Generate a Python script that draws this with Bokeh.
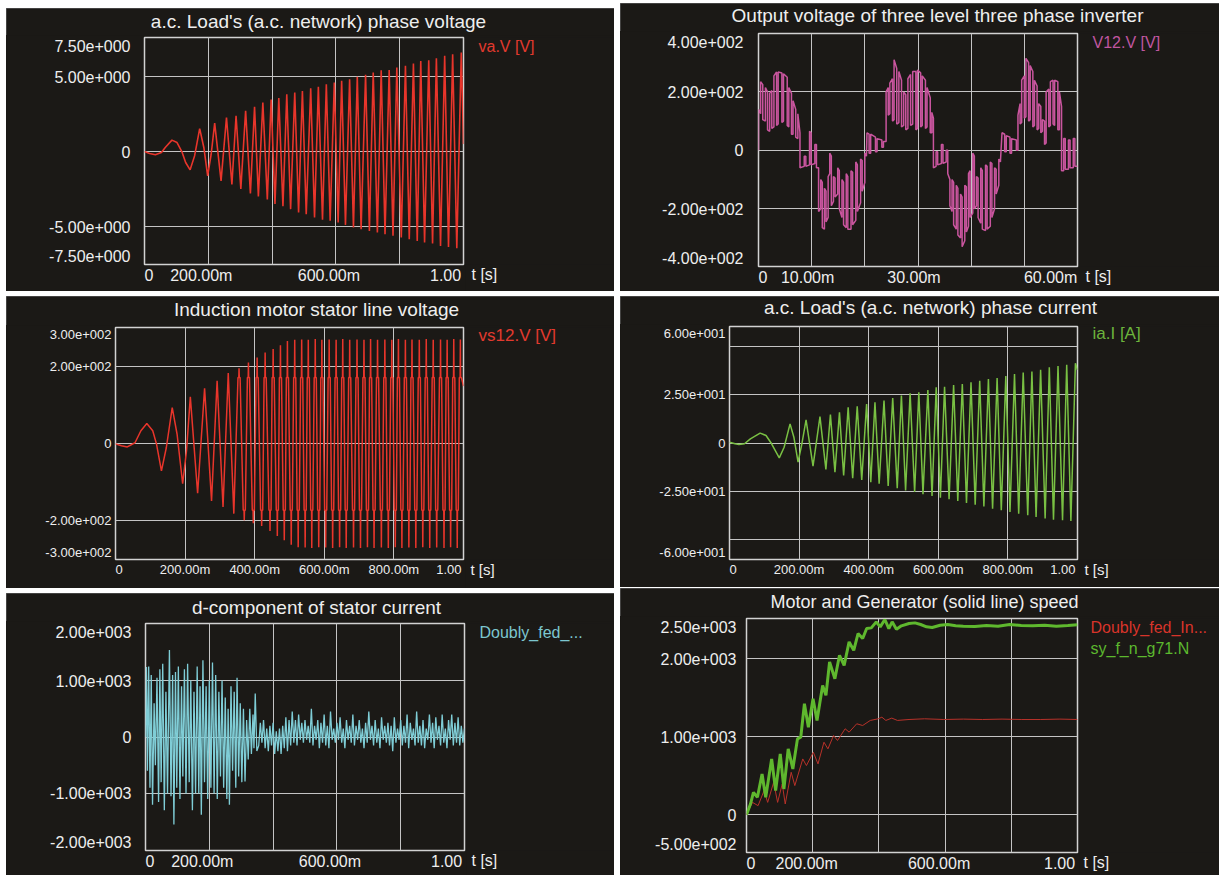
from bokeh.plotting import figure
from bokeh.layouts import row, column
from bokeh.models import FixedTicker, Label, Range1d, Title, Spacer
from bokeh.embed import file_html
from bokeh.resources import INLINE

# ---------------- data ----------------
# Panel 1: a.c. load phase voltage va.V [V]
va_t = [0.000, 0.016, 0.034, 0.053, 0.065, 0.086, 0.102, 0.117, 0.129, 0.143, 0.157, 0.173, 0.186, 0.198, 0.209, 0.220,
        0.240, 0.257, 0.274, 0.287, 0.302, 0.317, 0.332, 0.345, 0.357, 0.371, 0.385, 0.397, 0.409, 0.421, 0.434, 0.446,
        0.458, 0.471, 0.483, 0.495, 0.507, 0.521, 0.533, 0.545, 0.558, 0.570, 0.582, 0.595, 0.607, 0.618, 0.630, 0.643,
        0.655, 0.667, 0.679, 0.693, 0.705, 0.717, 0.730, 0.742, 0.754, 0.767, 0.779, 0.791, 0.805, 0.818, 0.830, 0.843,
        0.855, 0.866, 0.878, 0.891, 0.903, 0.915, 0.928, 0.941, 0.953, 0.966, 0.979, 0.993, 1.000]
va_v = [0.00, -0.13, -0.22, -0.07, 0.27, 0.76, 0.60, 0.00, -0.73, -1.22, -0.29, 1.53, 0.27, -1.62, -0.18, 1.89,
        -1.96, 2.27, -2.20, 2.38, -2.50, 2.71, -2.80, 2.98, -3.00, 3.27, -3.20, 3.47, -3.50, 3.56, -3.65, 3.82,
        -3.84, 3.93, -4.07, 4.04, -4.18, 4.22, -4.40, 4.31, -4.55, 4.49, -4.62, 4.60, -4.73, 4.71, -4.89, 4.82,
        -5.07, 4.98, -5.18, 5.11, -5.29, 5.27, -5.40, 5.42, -5.51, 5.44, -5.62, 5.60, -5.73, 5.71, -5.84, 5.87,
        -5.96, 6.04, -6.07, 6.09, -6.13, 6.22, -6.29, 6.38, -6.36, 6.49, -6.44, 6.60, 0.50]

# Panel 2: inverter output line voltage V12.V [V]  (time in ms, volts)
v12_pts = [
    (0, 0), (0, 140), (0.4, 125), (0.4, 235), (0.8, 225), (0.8, 105), (1.3, 100), (1.3, 215), (1.7, 200), (1.7, 70),
    (2.1, 65), (2.1, 195), (2.5, 205), (2.5, 75), (2.9, 80), (2.9, 255), (3.4, 268), (3.4, 85), (3.7, 90), (3.7, 268),
    (4.4, 265), (4.4, 95), (4.7, 100), (4.7, 262), (5.4, 250), (5.4, 85), (5.7, 80), (5.7, 215), (6.2, 195), (6.2, 55),
    (6.5, 55), (6.5, 170), (7.0, 140), (7.0, 45), (7.4, 40), (7.4, 125), (7.8, 60), (7.8, -60),
    (8.6, -55), (8.6, -20), (8.9, -20), (8.9, -55), (9.6, -50), (9.6, 65), (9.9, 60), (9.9, -50), (10.6, -45), (10.6, 20),
    (10.9, 20), (10.9, -60), (11.3, -60),
    (11.3, -210), (11.7, -200), (11.7, -100), (12.0, -110), (12.0, -265), (12.4, -270), (12.4, -130), (12.7, -140),
    (12.7, -245), (13.1, -230), (13.1, -90), (13.4, -80), (13.4, -10), (13.7, -20), (13.7, -190), (14.1, -175),
    (14.1, -90), (14.4, -95), (14.4, -160), (14.9, -150), (14.9, -60), (15.2, -70), (15.2, -200), (15.7, -230),
    (15.7, -100), (16.0, -110), (16.0, -255), (16.5, -265), (16.5, -80), (16.8, -90), (16.8, -270), (17.4, -270),
    (17.4, -70), (17.7, -75), (17.7, -255), (18.3, -240), (18.3, -40), (18.6, -50), (18.6, -210), (19.2, -180),
    (19.2, -30), (19.5, -35), (19.5, -140), (20.0, -110), (20.0, -10), (20.3, -20), (20.4, 60),
    (20.8, 55), (20.8, -10), (21.1, -10), (21.1, 55), (22.0, 45), (22.0, -5), (22.3, -5), (22.3, 40), (23.2, 35),
    (23.2, 10), (23.5, 10), (23.5, 30), (24.0, 30),
    (24.0, 200), (24.4, 215), (24.4, 120), (24.7, 125), (24.7, 230), (25.2, 245), (25.2, 100), (25.5, 105), (25.5, 310),
    (26.0, 280), (26.0, 90), (26.4, 95), (26.4, 270), (26.9, 240), (26.9, 80), (27.3, 85), (27.3, 200), (27.7, 190),
    (27.7, 70), (28.1, 75), (28.1, 245), (28.6, 260), (28.6, 85), (29.0, 90), (29.0, 270), (29.6, 270), (29.6, 70),
    (29.9, 75), (29.9, 275), (30.5, 265), (30.5, 80), (30.8, 85), (30.8, 255), (31.4, 240), (31.4, 75), (31.7, 80),
    (31.7, 215), (32.3, 180), (32.3, 60), (32.6, 60), (32.6, 130), (32.9, 110), (32.9, -60),
    (33.4, -55), (33.4, -5), (33.7, -5), (33.7, -50), (34.4, -45), (34.4, 20), (34.7, 20), (34.7, -45), (35.3, -40),
    (35.3, 0), (35.6, 0), (35.6, -80), (36.0, -100),
    (36.0, -190), (36.4, -210), (36.4, -100), (36.7, -110), (36.7, -255), (37.2, -270), (37.2, -120), (37.5, -130),
    (37.5, -290), (38.0, -300), (38.0, -150), (38.3, -160), (38.3, -330), (38.8, -310), (38.8, -120), (39.1, -125),
    (39.1, -280), (39.5, -260), (39.5, -80), (39.8, -70), (39.8, -230), (40.3, -215), (40.3, -10), (40.6, -20),
    (40.6, -200), (41.0, -190), (41.0, -90), (41.3, -95), (41.3, -230), (41.8, -250), (41.8, -60), (42.1, -70),
    (42.1, -270), (42.7, -275), (42.7, -50), (43.0, -55), (43.0, -270), (43.6, -260), (43.6, -40), (43.9, -45),
    (43.9, -230), (44.4, -200), (44.4, -60), (44.7, -65), (44.7, -150), (45.2, -120), (45.2, -30), (45.5, -40), (45.8, 60),
    (46.3, 55), (46.3, -5), (46.6, -5), (46.6, 50), (47.3, 45), (47.3, -10), (47.6, -10), (47.6, 40), (48.5, 35),
    (48.5, 0), (48.8, 0), (48.8, 120), (49.2, 160),
    (49.2, 90), (49.5, 95), (49.5, 240), (50.0, 255), (50.0, 110), (50.3, 115), (50.3, 315), (50.8, 300), (50.8, 100),
    (51.1, 105), (51.1, 290), (51.6, 270), (51.6, 80), (51.9, 85), (51.9, 240), (52.4, 220), (52.4, 70), (52.7, 75),
    (52.7, 160), (53.1, 150), (53.1, 60), (53.4, 65), (53.4, 105), (53.8, 100), (53.8, 20), (54.1, 25), (54.1, 200),
    (54.6, 210), (54.6, 80), (54.9, 85), (54.9, 235), (55.4, 240), (55.4, 90), (55.7, 85), (55.7, 240), (56.3, 235),
    (56.3, 70), (56.6, 70), (56.6, 200), (57.0, 150), (57.0, -70), (57.4, -70),
    (57.4, 40), (57.7, 40), (57.7, -65), (58.3, -65), (58.3, 35), (58.6, 35), (58.6, -60), (59.2, -60), (59.2, 40),
    (59.5, 40), (59.5, -55), (60.0, -55),
]

# Panel 3: induction motor stator line voltage vs12.V [V]  (extremes of each half cycle)
vs_t = [0.000, 0.017, 0.034, 0.056, 0.073, 0.090, 0.107, 0.118, 0.132, 0.146, 0.163, 0.177, 0.193, 0.204, 0.215,
        0.236, 0.256, 0.276, 0.292, 0.309, 0.324, 0.340, 0.355, 0.370, 0.382, 0.396, 0.407, 0.420, 0.430, 0.444,
        0.453, 0.465, 0.474, 0.485, 0.494,
        0.505, 0.515, 0.525, 0.535, 0.545, 0.554, 0.564, 0.574, 0.584, 0.593,
        0.604, 0.614, 0.624, 0.634, 0.644, 0.653, 0.663, 0.673, 0.684, 0.694,
        0.704, 0.714, 0.724, 0.733, 0.743, 0.753, 0.764, 0.774, 0.784, 0.794,
        0.804, 0.813, 0.823, 0.833, 0.843, 0.852, 0.863, 0.873, 0.883, 0.893,
        0.903, 0.913, 0.923, 0.934, 0.944, 0.953, 0.963, 0.972, 0.982, 0.991, 1.000]
vs_v = [0, -5, -8, 3, 34, 53, 34, -1, -70, -10, 94, 25, -103, -18, 122,
        -128, 144, -148, 164, -164, 184, -181, 196, -198, 211, -206, 224, -213, 237, -226,
        246, -239, 256, -250, 267,
        -262, 270, -268, 271, -269, 270, -270, 272, -268, 270,
        -269, 271, -270, 270, -268, 272, -270, 270, -269, 271,
        -270, 270, -268, 272, -270, 270, -269, 271, -270, 270,
        -268, 272, -270, 270, -269, 271, -270, 270, -268, 272,
        -270, 270, -269, 271, -270, 270, -268, 272, -270, 271, 150]
vs_step = 172          # flat step level seen on every large cycle (bands at +-172 V)
vs_step_w = 0.003      # half width of that step around each peak [s]

# Panel 4: a.c. load phase current ia.I [A]
ia_t = [0.000, 0.016, 0.027, 0.043, 0.060, 0.088, 0.105, 0.121, 0.143, 0.157, 0.174, 0.185, 0.197, 0.208, 0.220,
        0.240, 0.260, 0.277, 0.290, 0.303, 0.316, 0.328, 0.341, 0.354, 0.367,
        0.380, 0.394, 0.406, 0.418, 0.430, 0.444, 0.456, 0.469, 0.482, 0.494,
        0.506, 0.519, 0.532, 0.544, 0.556, 0.570, 0.582, 0.594, 0.606, 0.618,
        0.631, 0.644, 0.656, 0.669, 0.681, 0.694, 0.706, 0.719, 0.731, 0.744,
        0.756, 0.769, 0.781, 0.794, 0.806, 0.819, 0.831, 0.844, 0.857, 0.869,
        0.881, 0.894, 0.907, 0.919, 0.931, 0.944, 0.957, 0.969, 0.981, 0.994, 1.000]
ia_v = [0.5, -0.3, -0.7, -0.3, 2.2, 5.2, 4.0, -0.3, -7.6, -2.1, 10.0, 3.1, -9.8, -0.3, 12.1,
        -11.9, 13.8, -13.6, 14.8, -15.0, 16.0, -16.7, 18.6, -18.1, 19.1,
        -19.0, 20.3, -20.2, 21.2, -21.0, 22.1, -22.2, 23.4, -23.4, 24.7,
        -24.5, 25.9, -25.3, 26.4, -26.4, 27.6, -27.4, 29.0, -28.3, 29.3,
        -29.1, 30.2, -30.0, 30.7, -31.0, 31.6, -31.9, 32.4, -32.8, 33.3,
        -34.0, 33.8, -34.8, 34.8, -35.7, 35.9, -36.6, 36.7, -37.4, 37.2,
        -38.3, 38.1, -39.0, 39.3, -39.7, 40.0, -40.0, 40.7, -40.3, 41.4, 38.0]

# Panel 5: d-component of stator current
dq_t = [0.000, 0.003, 0.006, 0.010, 0.014, 0.018, 0.022, 0.027, 0.031, 0.036,
        0.041, 0.045, 0.049, 0.054, 0.059, 0.064, 0.069, 0.075, 0.080, 0.085,
        0.089, 0.094, 0.098, 0.103, 0.108, 0.113, 0.117, 0.122, 0.127, 0.132,
        0.137, 0.142, 0.147, 0.152, 0.157, 0.162, 0.167, 0.171, 0.175, 0.180,
        0.185, 0.190, 0.195, 0.200, 0.205, 0.210, 0.215, 0.220, 0.225, 0.230,
        0.235, 0.240, 0.245, 0.250, 0.255, 0.259, 0.263, 0.268, 0.273, 0.278,
        0.283, 0.287, 0.292, 0.297, 0.302, 0.307, 0.312, 0.317, 0.322, 0.327,
        0.332, 0.337, 0.340, 0.344, 0.349,
        0.355, 0.360, 0.365, 0.370, 0.375, 0.380, 0.385, 0.390, 0.395, 0.400,
        0.405, 0.410, 0.415, 0.420, 0.425, 0.430, 0.435, 0.440, 0.445, 0.450,
        0.455, 0.460, 0.465, 0.470, 0.475, 0.480, 0.485, 0.490, 0.495, 0.500,
        0.505, 0.510, 0.515, 0.520, 0.525, 0.530, 0.535, 0.540, 0.545, 0.550,
        0.555, 0.560, 0.565, 0.570, 0.575, 0.580, 0.585, 0.590, 0.595, 0.600,
        0.605, 0.610, 0.615, 0.620, 0.625, 0.630, 0.635, 0.640, 0.645, 0.650,
        0.655, 0.660, 0.665, 0.670, 0.675, 0.680, 0.685, 0.690, 0.695, 0.700,
        0.705, 0.710, 0.715, 0.720, 0.725, 0.730, 0.735, 0.740, 0.745, 0.750,
        0.755, 0.760, 0.765, 0.770, 0.775, 0.780, 0.785, 0.790, 0.795, 0.800,
        0.805, 0.810, 0.815, 0.820, 0.825, 0.830, 0.835, 0.840, 0.845, 0.850,
        0.855, 0.860, 0.865, 0.870, 0.875, 0.880, 0.885, 0.890, 0.895, 0.900,
        0.905, 0.910, 0.915, 0.920, 0.925, 0.930, 0.935, 0.940, 0.945, 0.950,
        0.955, 0.960, 0.965, 0.970, 0.975, 0.980, 0.985, 0.990, 0.995, 1.000]
dq_v = [0, 1240, -600, 1250, -900, 1100, -1200, 600, -500, 1050,
        -1150, 1200, -800, 1300, -1300, 800, -1000, 1540, -1050, 1100,
        -1550, 1150, -900, 1250, -1100, 900, -700, 1200, -1000, 1300,
        -800, 1000, -1300, 800, -1000, 1250, -1000, 900, -1380, 1360,
        -800, 900, -1100, 1000, -900, 1320, -1000, 1100, -1100, 800,
        -700, 1000, -900, 700, -1100, 500, -1200, 900, -600, 800,
        -900, 1050, -700, 600, -800, 500, -790, 300, -400, 500,
        -300, 400, -200, 770, -250,
        -150, 250, -100, 300, -200, 150, -250, 200, -150, 250,
        -300, 100, -250, 150, -300, 200, -200, 350, -250, 300,
        -150, 450, -100, 300, -150, 400, -50, 250, -100, 300,
        -50, 200, -100, 500, -150, 200, -50, 300, -200, 250,
        -100, 400, -150, 200, -200, 450, -50, 150, -100, 250,
        -50, 350, -100, 150, -200, 300, -50, 200, -100, 400,
        -150, 200, -50, 300, -100, 150, -200, 250, -100, 450,
        -50, 200, -150, 300, -100, 150, -200, 350, -50, 200,
        -100, 250, -150, 200, -250, 350, -100, 150, -50, 300,
        -150, 200, -100, 400, -200, 250, -50, 150, -150, 450,
        -100, 200, -150, 300, -200, 150, -50, 400, -100, 250,
        -200, 350, -50, 200, -150, 400, -100, 150, -200, 300,
        -50, 400, -150, 250, -100, 350, -150, 200, -100, 150]

# Panel 6: generator speed (green, thick) and motor speed (red, thin)
gen_t = [0.000, 0.012, 0.021, 0.033, 0.047, 0.058, 0.076, 0.088, 0.102, 0.113,
         0.126, 0.140, 0.154, 0.164, 0.175, 0.187, 0.201, 0.213, 0.230, 0.240,
         0.251, 0.267, 0.281, 0.295, 0.310, 0.324, 0.337, 0.351, 0.363, 0.377,
         0.392, 0.404, 0.418, 0.430, 0.440, 0.453, 0.468, 0.491, 0.509, 0.526,
         0.544, 0.561, 0.585, 0.608, 0.632, 0.655, 0.690, 0.725, 0.760, 0.795,
         0.830, 0.865, 0.901, 0.936, 0.971, 1.000]
gen_v = [0, 137, 287, 223, 522, 223, 715, 308, 779, 330,
         844, 587, 972, 994, 1422, 1122, 1486, 1208, 1657, 1529,
         1957, 1743, 2043, 1914, 2214, 2107, 2321, 2257, 2385, 2394,
         2471, 2407, 2501, 2385, 2471, 2377, 2420, 2450, 2458, 2437,
         2407, 2398, 2428, 2437, 2420, 2415, 2411, 2424, 2415, 2437,
         2424, 2420, 2428, 2415, 2424, 2433]
mot_t = [0.000, 0.018, 0.035, 0.053, 0.064, 0.082, 0.094, 0.108, 0.117, 0.135,
         0.146, 0.170, 0.181, 0.202, 0.216, 0.234, 0.246, 0.263, 0.275, 0.298,
         0.310, 0.333, 0.351, 0.374, 0.398, 0.409, 0.421, 0.439, 0.456, 0.491,
         0.538, 0.596, 0.655, 0.713, 0.772, 0.830, 0.889, 0.947, 1.000]
mot_v = [0, 158, 116, 308, 158, 415, 158, 394, 137, 544,
         373, 715, 630, 801, 651, 929, 844, 1015, 951, 1101,
         1058, 1165, 1143, 1208, 1229, 1250, 1208, 1238, 1208, 1220,
         1229, 1220, 1225, 1220, 1225, 1220, 1220, 1225, 1220]

# tick labels
t_ticks_a = [0, 0.2, 0.6, 1.0]
t_labels_a = ["0", "200.00m", "600.00m", "1.00"]
t_ticks_b = [0, 0.2, 0.4, 0.6, 0.8, 1.0]
t_labels_b = ["0", "200.00m", "400.00m", "600.00m", "800.00m", "1.00"]
t_ticks_c = [0, 0.01, 0.03, 0.06]
t_labels_c = ["0", "10.00m", "30.00m", "60.00m"]

# ---------------- styling ----------------
FONT = "Liberation Sans"
BG = "#1b1916"
GRID = "#c4c4c4"
FRAME = "#d2d2d2"
TXT = "#eeeeee"
PANEL_CSS = {"background-color": BG, "outline": "1px solid #6e6e6e", "outline-offset": "-1px"}
DARK = {"background-color": BG}


def put(q, x, y, text, color, fs, align="left"):
    q.add_layout(Label(x=x, y=y, text=text, text_align=align, text_baseline="middle",
                       text_color=color, text_font=FONT, text_font_size=f"{fs}px"))


def build(W, H, fl, ft, fr, fb, xr, yr, xgrid, ygrid, xt, xl, yt, yl, yfs, xfs, ystand, xshift,
          title, tdx, tdy, tfs, legends, ts_fs, ts_dx):
    fw, fh = fr - fl, fb - ft
    T = ft - 2                       # height of the title strip
    MW = fr + 2                      # width of the chart itself
    BB = H - fb                      # bottom border (axis labels)
    p = figure(width=MW, height=H - T, x_range=Range1d(*xr), y_range=Range1d(*yr),
               min_border_left=fl, min_border_right=2, min_border_top=2, min_border_bottom=BB,
               output_backend="svg", toolbar_location=None, tools="", title=None,
               background_fill_color=BG, border_fill_color=BG,
               outline_line_color=FRAME, outline_line_width=1.5)
    dx = (xr[1] - xr[0]) / fw
    dy = (yr[1] - yr[0]) / fh

    ypos = []
    for v in yt:
        half = 0.55 * yfs * dy
        ypos.append(round(min(max(v, yr[0] + half), yr[1] - half), 6))
    xpos = []
    for v, lab in zip(xt, xl):
        half = len(lab) * 0.28 * xfs * dx
        xpos.append(round(min(max(v + xshift * dx, xr[0] + half), xr[1] - half), 7))

    p.yaxis.ticker = FixedTicker(ticks=ypos)
    p.yaxis.major_label_overrides = {k: lab for k, lab in zip(ypos, yl)}
    p.xaxis.ticker = FixedTicker(ticks=xpos)
    p.xaxis.major_label_overrides = {k: lab for k, lab in zip(xpos, xl)}
    for ax, fs, st in ((p.yaxis, yfs, ystand), (p.xaxis, xfs, 2)):
        ax.axis_line_color = None
        ax.major_tick_line_color = None
        ax.minor_tick_line_color = None
        ax.major_tick_out = 0
        ax.major_tick_in = 0
        ax.minor_tick_out = 0
        ax.minor_tick_in = 0
        ax.major_label_text_color = TXT
        ax.major_label_text_font = FONT
        ax.major_label_text_font_size = f"{fs}px"
        ax.major_label_standoff = st

    p.xgrid.ticker = FixedTicker(ticks=xgrid)
    p.ygrid.ticker = FixedTicker(ticks=ygrid)
    for g in (p.xgrid, p.ygrid):
        g.grid_line_color = GRID
        g.grid_line_width = 1

    # title strip above the chart
    top = figure(width=W, height=T, x_range=Range1d(0, W), y_range=Range1d(T, 0),
                 x_axis_type=None, y_axis_type=None, output_backend="svg", toolbar_location=None,
                 tools="", title=None, min_border=0, background_fill_color=BG, border_fill_color=BG,
                 outline_line_color=None)
    put(top, fl + tdx, ft + tdy, title, TXT, tfs, align="center")

    # strip to the right of the chart: same frame rows as the chart, legend names inside,
    # the time unit below the frame, on the line of the time tick labels
    SW = W - MW
    side = figure(width=SW, height=H - T, x_range=Range1d(0, SW), y_range=Range1d(fh, 0),
                  x_axis_type=None, y_axis_type=None, output_backend="svg", toolbar_location=None,
                  tools="", title=None, min_border_left=0, min_border_right=0, min_border_top=2,
                  min_border_bottom=BB, background_fill_color=BG, border_fill_color=BG,
                  outline_line_color=None)
    for text, color, ldx, ldy, lfs in legends:
        put(side, ldx - 2, ldy, text, color, lfs)
    kw = dict(text="t [s]", align="left", vertical_align="middle", offset=ts_dx - 2,
              text_color=TXT, text_font=FONT, text_font_size=f"{ts_fs}px", text_font_style="normal")
    try:
        tt = Title(standoff=0, **kw)
    except AttributeError:
        tt = Title(**kw)
    side.add_layout(tt, "below")

    panel = column(top, row(p, side, spacing=0, styles=DARK), spacing=0, styles=PANEL_CSS)
    return p, panel


def series(t, v):
    n = min(len(t), len(v))
    return list(t[:n]), list(v[:n])


def with_steps(t, v, level, half_w, start):
    """Draw each large half-cycle as read: a flat step at +-level with a narrow spike to the extreme."""
    ot, ov = [], []
    for ti, vi in zip(t, v):
        if ti >= start and abs(vi) > level and ti + half_w < 1.0:
            s = level if vi > 0 else -level
            ot += [ti - half_w, ti - 0.0007, ti, ti + 0.0007, ti + half_w]
            ov += [s, s, vi, s, s]
        else:
            ot.append(ti)
            ov.append(vi)
    return ot, ov


LW, RW = 608, 599

# Panel 1
p1, c1 = build(LW, 283, 138, 29, 457, 256, (0, 1), (-7.53, 7.6), [0.2, 0.4, 0.6, 0.8], [-5, 0, 5],
               t_ticks_a, t_labels_a, [7.5, 5, 0, -5, -7.5],
               ["7.50e+000", "5.00e+000", "0", "-5.00e+000", "-7.50e+000"], 16, 16, 14, -7,
               "a.c. Load's (a.c. network) phase voltage", 174, -16, 19,
               [("va.V [V]", "#e23a2e", 15, 9, 16)], 16, 8)
x, y = series(va_t, va_v)
p1.line(x, y, line_color="#e8352b", line_width=1.6)

# Panel 2
p2, c2 = build(RW, 288, 138, 30, 457, 263, (0, 0.06), (-398, 400), [0.01, 0.02, 0.03, 0.04, 0.05],
               [-200, 0, 200], t_ticks_c, t_labels_c, [400, 200, 0, -200, -400],
               ["4.00e+002", "2.00e+002", "0", "-2.00e+002", "-4.00e+002"], 16, 16, 15, -4,
               "Output voltage of three level three phase inverter", 179, -18, 19,
               [("V12.V [V]", "#c056a0", 15, 9, 16)], 16, 8)
v12_ms = [pt[0] for pt in v12_pts]
v12_v = [pt[1] for pt in v12_pts]
p2.line([m / 1000.0 for m in v12_ms], v12_v, line_color="#c9559e", line_width=1.5)

# Panel 3
p3, c3 = build(LW, 292, 109, 31, 457, 263, (0, 1), (-300, 302), [0.2, 0.4, 0.6, 0.8], [-200, 0, 200],
               t_ticks_b, t_labels_b, [300, 200, 0, -200, -300],
               ["3.00e+002", "2.00e+002", "0", "-2.00e+002", "-3.00e+002"], 13, 13, 4, 0,
               "Induction motor stator line voltage", 201, -18, 19,
               [("vs12.V [V]", "#e23a2e", 15, 8, 17)], 15, 7)
x, y = series(vs_t, vs_v)
x, y = with_steps(x, y, vs_step, vs_step_w, 0.35)
p3.line(x, y, line_color="#e8352b", line_width=1.5)

# Panel 4
p4, c4 = build(RW, 291, 109, 30, 457, 263, (0, 1), (-60.3, 60.5), [0.2, 0.4, 0.6, 0.8], [-50, -25, 0, 25, 50],
               t_ticks_b, t_labels_b, [60, 25, 0, -25, -60],
               ["6.00e+001", "2.50e+001", "0", "-2.50e+001", "-6.00e+001"], 13, 13, 4, 0,
               "a.c. Load's (a.c. network) phase current", 201, -19, 19,
               [("ia.I [A]", "#6cb43c", 15, 7, 17)], 15, 7)
x, y = series(ia_t, ia_v)
p4.line(x, y, line_color="#79c043", line_width=1.5)

# Panel 5
p5, c5 = build(LW, 282, 139, 30, 458, 257, (0, 1), (-2012, 2012), [0.2, 0.4, 0.6, 0.8], [-1000, 0, 1000],
               t_ticks_a, t_labels_a, [2000, 1000, 0, -1000, -2000],
               ["2.00e+003", "1.00e+003", "0", "-1.00e+003", "-2.00e+003"], 16, 16, 14, -7,
               "d-component of stator current", 171, -16, 19,
               [("Doubly_fed_...", "#7cc6cf", 15, 9, 16)], 16, 7)
x, y = series(dq_t, dq_v)
p5.line(x, y, line_color="#7fcdd6", line_width=1.3)

# Panel 6
p6, c6 = build(RW, 287, 126, 30, 457, 264, (0, 1), (-484, 2514), [0.2, 0.4, 0.6, 0.8], [0, 1000, 2000],
               t_ticks_a, t_labels_a, [2500, 2000, 1000, 0, -500],
               ["2.50e+003", "2.00e+003", "1.00e+003", "0", "-5.00e+002"], 16, 16, 10, -6,
               "Motor and Generator (solid line) speed", 178, -17, 18,
               [("Doubly_fed_In...", "#d8342a", 13, 9, 16), ("sy_f_n_g71.N", "#5cb82e", 13, 30, 16)], 16, 6)
x, y = series(mot_t, mot_v)
p6.line(x, y, line_color="#b8322a", line_width=1.0)
x, y = series(gen_t, gen_v)
p6.line(x, y, line_color="#5fb82e", line_width=3.0)

left = column(Spacer(width=LW, height=8), c1, Spacer(width=LW, height=5), c3, Spacer(width=LW, height=5), c5,
              spacing=0)
right = column(Spacer(width=RW, height=3), c2, Spacer(width=RW, height=5), c4, Spacer(width=RW, height=1), c6,
               spacing=0)
layout = row(Spacer(width=6, height=10), left, Spacer(width=6, height=10), right, spacing=0)

with open("out.html", "w") as f:
    f.write(file_html(layout, INLINE, title="Simulation results"))
